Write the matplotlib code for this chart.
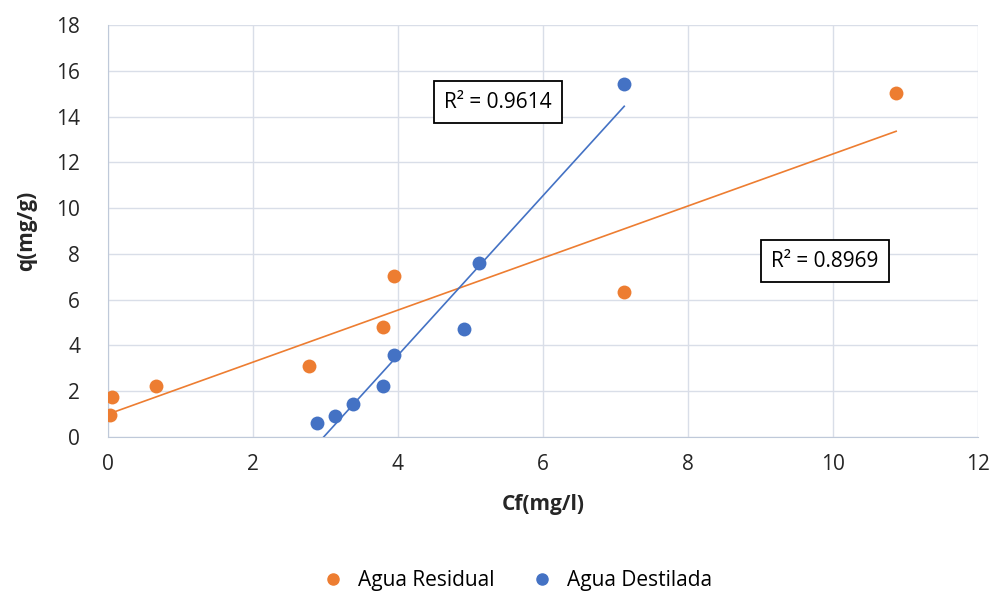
import numpy as np
import matplotlib
matplotlib.use("Agg")
import matplotlib.pyplot as plt
from matplotlib.lines import Line2D

plt.rcParams["font.family"] = ["Open Sans", "DejaVu Sans"]

# Agua Residual
res_cf = [0.03, 0.05, 0.66, 2.77, 3.79, 3.94, 7.12, 10.87]
res_q = [0.96, 1.75, 2.23, 3.10, 4.80, 7.03, 6.33, 15.02]

# Agua Destilada
des_cf = [2.88, 3.13, 3.38, 3.79, 3.94, 4.91, 5.12, 7.12]
des_q = [0.61, 0.92, 1.44, 2.23, 3.58, 4.72, 7.60, 15.41]

r2_labels = ["R² = 0.8969", "R² = 0.9614"]

orange = "#ED7D31"
blue = "#4472C4"
grid_c = "#D9DEE8"

fig = plt.figure(figsize=(9.95, 5.97), dpi=100)
ax = fig.add_axes([0.1085, 0.268, 0.8745, 0.690])

# Trendlines (linear fit over each data range)
for xs, ys, c in [(res_cf, res_q, orange), (des_cf, des_q, blue)]:
    m, b = np.polyfit(xs, ys, 1)
    xx = np.array([min(xs), max(xs)])
    ax.plot(xx, m * xx + b, color=c, linewidth=1.2, zorder=2)

ax.scatter(res_cf, res_q, s=100, color=orange, zorder=3, linewidths=0)
ax.scatter(des_cf, des_q, s=100, color=blue, zorder=3, linewidths=0)

ax.set_xlim(0, 12)
ax.set_ylim(0, 18)
ax.set_xticks(range(0, 13, 2))
ax.set_yticks(range(0, 19, 2))
ax.grid(True, color=grid_c, linewidth=1)
ax.set_axisbelow(True)
for side in ["top", "right"]:
    ax.spines[side].set_visible(False)
for side in ["left", "bottom"]:
    ax.spines[side].set_color("#BFC9D9")
ax.tick_params(length=0, labelsize=15, colors="#262626")
ax.tick_params(axis="x", pad=12)
ax.tick_params(axis="y", pad=20)

ax.set_xlabel("Cf(mg/l)", fontsize=15, fontweight="bold", color="#262626", labelpad=14)
ax.set_ylabel("q(mg/g)", fontsize=15, fontweight="bold", color="#262626", labelpad=14)

box = dict(boxstyle="square,pad=0.5", facecolor="white", edgecolor="black", linewidth=1.3)
ax.text(9.89, 7.69, r2_labels[0], fontsize=15, ha="center", va="center", bbox=box, zorder=4)
ax.text(5.38, 14.63, r2_labels[1], fontsize=15, ha="center", va="center", bbox=box, zorder=4)

handles = [
    Line2D([], [], marker="o", linestyle="none", color=orange, markersize=8, label="Agua Residual"),
    Line2D([], [], marker="o", linestyle="none", color=blue, markersize=8, label="Agua Destilada"),
]
fig.legend(handles=handles, loc="center", bbox_to_anchor=(0.515, 0.027), ncol=2,
           frameon=False, fontsize=15, handletextpad=0.2, columnspacing=1.3)

fig.savefig("out.png", dpi=100)
